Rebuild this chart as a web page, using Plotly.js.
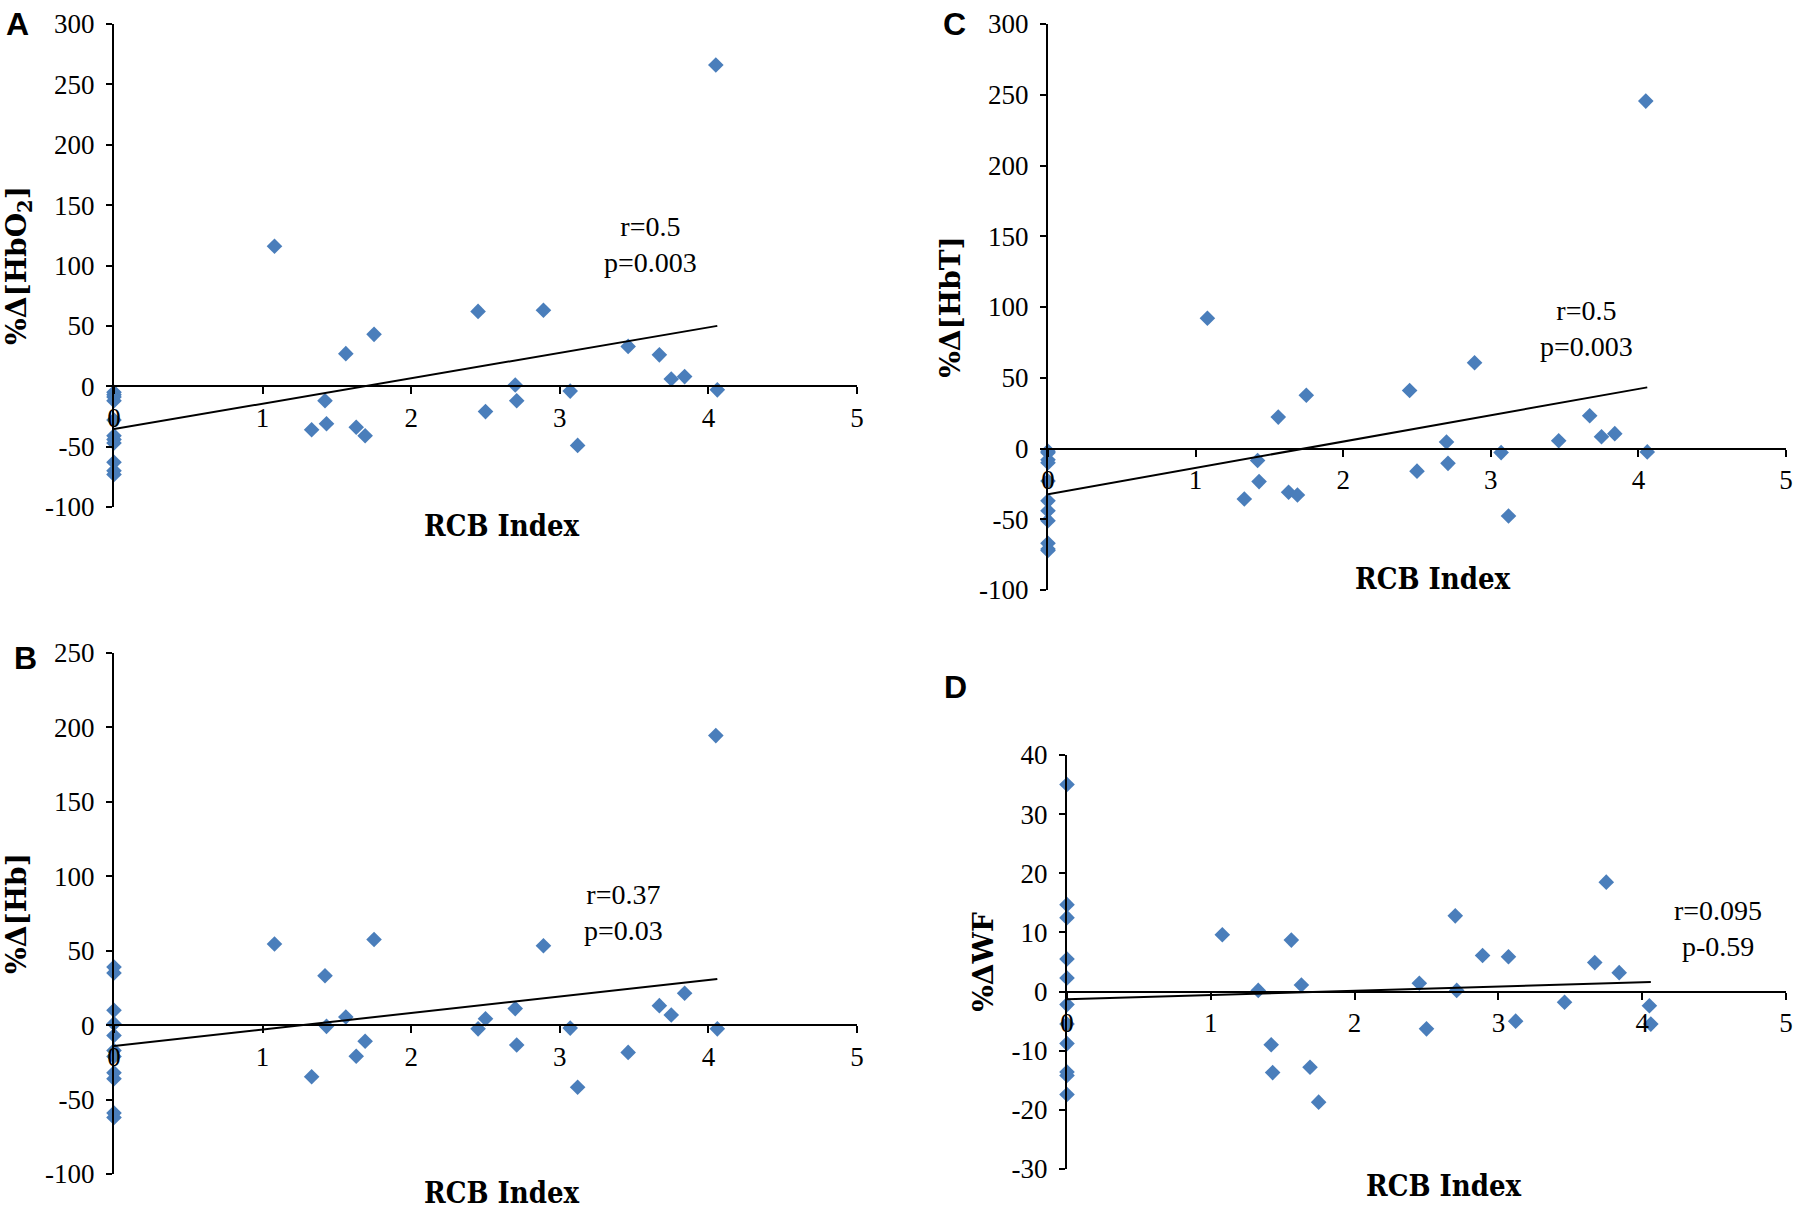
<!DOCTYPE html>
<html>
<head>
<meta charset="utf-8">
<script src="https://cdn.plot.ly/plotly-3.0.1.min.js"></script>
<style>
html,body{margin:0;padding:0;background:#ffffff;}
#chart{width:1800px;height:1209px;}
</style>
</head>
<body>
<div id="chart"></div>
<script>
// ---------------- DATA ----------------
const rcbIndex = [0,0,0,0,0,0,0,0,0,0,0,
  1.08,1.33,1.42,1.43,1.56,1.63,1.69,1.75,2.45,2.50,2.70,2.71,2.89,3.07,3.12,3.46,3.67,3.75,3.84,4.05,4.06];
const pctHbO2 = [-5,-7,-9,-12,-28,-41,-44,-47,-63,-70,-73,
  116,-36,-12,-31,27,-34,-41,43,62,-21,1,-12,63,-4,-49,33,26,6,8,266,-3];
const pctHb = [39,35,10,1,-7,-17,-21,-32,-36,-59,-62,
  54.5,-34.7,33.2,-0.8,5.5,-20.9,-10.8,57.5,-2.5,4.3,11.1,-13.3,53.3,-2,-41.7,-18.3,13.1,6.8,21.4,194.5,-2.5];
const pctHbT = [-2,-3,-8,-10,-23,-37,-44,-51,-67,-71,-72,
  92,-35.7,-8.5,-23.4,22.2,-30.9,-32.9,37.6,41,-16,4.6,-10.5,60.6,-2.9,-47.7,5.5,23.1,8.3,10.5,245.5,-2.4];
const pctWF = [35,14.7,12.5,5.5,2.3,-2.2,-5.5,-8.8,-13.6,-14.2,-17.4,
  9.6,0.2,-9,-13.7,8.7,1.1,-12.8,-18.7,1.4,-6.3,12.8,0.2,6.1,5.9,-5,-1.8,4.9,18.5,3.2,-2.4,-5.5];

// linear trend lines (end points)
const trendX = [0, 4.06];
const trendHbO2 = [-35.5, 50];
const trendHb = [-14, 31];
const trendHbT = [-32.3, 43.2];
const trendWF = [-1.3, 1.6];

// statistics labels
const statHbO2 = ['r=0.5', 'p=0.003'];
const statHb = ['r=0.37', 'p=0.03'];
const statHbT = ['r=0.5', 'p=0.003'];
const statWF = ['r=0.095', 'p-0.59'];

// panel letters and titles
const panelLetters = ['A', 'B', 'C', 'D'];
const xTitle = 'RCB Index';
const yTitles = ['%Δ[HbO<sub>2</sub>]', '%Δ[Hb]', '%Δ[HbT]', '%ΔWF'];

// tick values / labels
const xTickVals = [0,1,2,3,4,5];
const xTickText = ['0','1','2','3','4','5'];
const yTickVals300 = [-100,-50,0,50,100,150,200,250,300];
const yTickText300 = ['-100','-50','0','50','100','150','200','250','300'];
const yTickVals250 = [-100,-50,0,50,100,150,200,250];
const yTickText250 = ['-100','-50','0','50','100','150','200','250'];
const yTickVals40 = [-30,-20,-10,0,10,20,30,40];
const yTickText40 = ['-30','-20','-10','0','10','20','30','40'];

// ---------------- LAYOUT ----------------
const W = 1800, H = 1209;
const px2x = p => p / W;
const px2y = p => 1 - p / H;

const markerColor = '#4a7ebb';
const tickFont = {family: 'Liberation Serif, Times New Roman, serif', size: 27, color: '#000'};
const statFont = {family: 'Liberation Serif, Times New Roman, serif', size: 28, color: '#000'};
const yTitleFont = {family: 'DejaVu Serif, serif', size: 28, color: '#000', weight: 'bold'};
const xTitleFont = {family: 'DejaVu Serif Condensed, Liberation Serif, serif', size: 29, color: '#000', weight: 'bold'};
const letterFont = {family: 'Liberation Sans, Arial, sans-serif', size: 32, color: '#000', weight: 'bold'};

const panels = [
  {id: '', y: pctHbO2, trend: trendHbO2, stat: statHbO2, yTitle: yTitles[0], letter: panelLetters[0],
   xd: [114, 857], yd: [24, 507], yr: [-100, 300], tv: yTickVals300, tt: yTickText300,
   statPos: [3.61, 117], letterPos: [17, 24], xTitlePos: [502, 526]},
  {id: '2', y: pctHb, trend: trendHb, stat: statHb, yTitle: yTitles[1], letter: panelLetters[1],
   xd: [114, 857], yd: [653, 1174], yr: [-100, 250], tv: yTickVals250, tt: yTickText250,
   statPos: [3.43, 76], letterPos: [25, 658], xTitlePos: [502, 1193]},
  {id: '3', y: pctHbT, trend: trendHbT, stat: statHbT, yTitle: yTitles[2], letter: panelLetters[2],
   xd: [1048, 1786], yd: [24, 590], yr: [-100, 300], tv: yTickVals300, tt: yTickText300,
   statPos: [3.65, 85], letterPos: [954, 24], xTitlePos: [1433, 579]},
  {id: '4', y: pctWF, trend: trendWF, stat: statWF, yTitle: yTitles[3], letter: panelLetters[3],
   xd: [1067, 1786], yd: [755, 1169], yr: [-30, 40], tv: yTickVals40, tt: yTickText40,
   statPos: [4.53, 10.7], letterPos: [955, 687], xTitlePos: [1444, 1186]}
];

const data = [];
const layout = {
  width: W, height: H,
  margin: {l: 0, r: 0, t: 0, b: 0, pad: 0},
  paper_bgcolor: '#ffffff', plot_bgcolor: 'rgba(0,0,0,0)',
  showlegend: false,
  annotations: []
};

panels.forEach(p => {
  const xa = 'x' + p.id, ya = 'y' + p.id;
  data.push({
    type: 'scatter', mode: 'markers', x: rcbIndex, y: p.y, xaxis: xa, yaxis: ya,
    marker: {symbol: 'diamond', size: 12, color: markerColor, line: {width: 0}},
    hoverinfo: 'x+y', cliponaxis: false
  });
  data.push({
    type: 'scatter', mode: 'lines', x: trendX, y: p.trend, xaxis: xa, yaxis: ya,
    line: {color: '#000', width: 2}, hoverinfo: 'skip'
  });
  const yDom = [px2y(p.yd[1]), px2y(p.yd[0])];
  const zeroPos = yDom[0] + (0 - p.yr[0]) / (p.yr[1] - p.yr[0]) * (yDom[1] - yDom[0]);
  layout['xaxis' + p.id] = {
    domain: [px2x(p.xd[0]), px2x(p.xd[1])],
    range: [0, 5], anchor: 'free', position: zeroPos,
    tickmode: 'array', tickvals: xTickVals, ticktext: xTickText,
    showgrid: false, zeroline: false, showline: true, linecolor: '#000', linewidth: 2,
    ticks: 'outside', ticklen: 7, tickwidth: 2, tickcolor: '#000',
    tickfont: tickFont, ticklabelstandoff: 0,
    fixedrange: true
  };
  layout['yaxis' + p.id] = {
    domain: yDom, range: p.yr, anchor: xa,
    tickmode: 'array', tickvals: p.tv, ticktext: p.tt,
    showgrid: false, zeroline: false, showline: true, linecolor: '#000', linewidth: 2,
    ticks: 'outside', ticklen: 6, tickwidth: 2, tickcolor: '#000',
    tickfont: tickFont, ticklabelstandoff: 6,
    title: {text: p.yTitle, font: yTitleFont, standoff: 10},
    fixedrange: true
  };
  // x-axis title, placed where the reference draws it
  layout.annotations.push({
    xref: 'paper', yref: 'paper', x: px2x(p.xTitlePos[0]), y: px2y(p.xTitlePos[1]),
    text: xTitle, showarrow: false, font: xTitleFont,
    xanchor: 'center', yanchor: 'middle'
  });
  layout.annotations.push({
    xref: xa, yref: ya, x: p.statPos[0], y: p.statPos[1],
    text: p.stat.join('<br>'), showarrow: false, font: statFont,
    xanchor: 'center', yanchor: 'middle', align: 'center'
  });
  layout.annotations.push({
    xref: 'paper', yref: 'paper', x: px2x(p.letterPos[0]), y: px2y(p.letterPos[1]),
    text: p.letter, showarrow: false, font: letterFont,
    xanchor: 'center', yanchor: 'middle'
  });
});

Plotly.newPlot('chart', data, layout, {displayModeBar: false, staticPlot: true});
</script>
</body>
</html>
